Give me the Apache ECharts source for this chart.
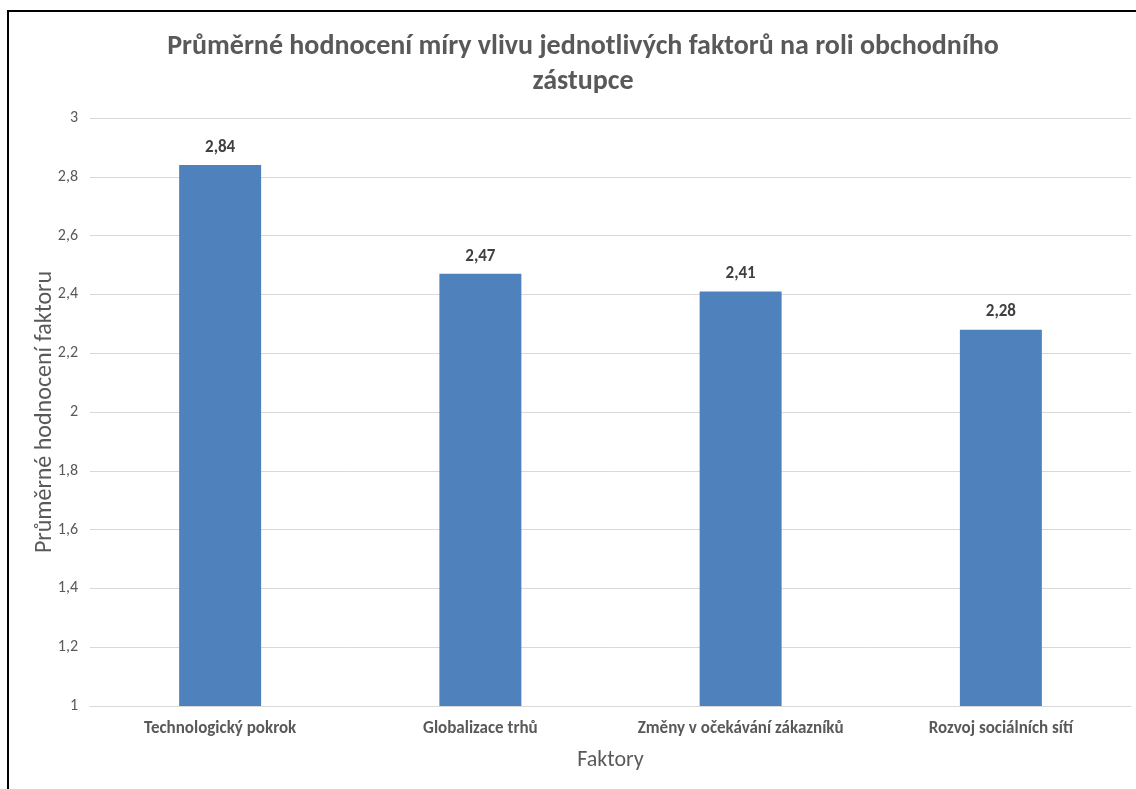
<!DOCTYPE html>
<html>
<head>
<meta charset="utf-8">
<script src="https://cdn.jsdelivr.net/npm/echarts@6/dist/echarts.min.js"></script>
<style>
  html, body { margin: 0; padding: 0; background: #fff; }
  #bar-chart { width: 1136px; height: 789px; }
</style>
</head>
<body>
<div id="bar-chart"></div>
<script>
const categories = ['Technologický pokrok', 'Globalizace trhů', 'Změny v očekávání zákazníků', 'Rozvoj sociálních sítí']
const averageScores = [2.84, 2.47, 2.41, 2.28]
const yTicks = { min: 1, max: 3, step: 0.2 }

const fmt = v => String(Math.round(v * 100) / 100).replace('.', ',')
const font = 'Calibri, Carlito, "Open Sans", "Noto Sans", sans-serif'

echarts.init(document.getElementById('bar-chart')).setOption({
  backgroundColor: '#fff',
  textStyle: { fontFamily: font },
  graphic: [{
    type: 'rect',
    shape: { x: 8, y: 11, width: 1300, height: 900 },
    style: { fill: 'none', stroke: '#000', lineWidth: 2 },
    silent: true
  }],
  title: {
    text: 'Průměrné hodnocení míry vlivu jednotlivých faktorů na roli obchodního\nzástupce',
    left: 578,
    textAlign: 'center',
    top: 24,
    textStyle: {
      fontFamily: font,
      fontSize: 28,
      fontWeight: 'bold',
      color: '#595959',
      lineHeight: 35
    }
  },
  grid: { left: 90, right: 5, top: 118, bottom: 83 },
  xAxis: {
    type: 'category',
    data: categories,
    name: 'Faktory',
    nameLocation: 'middle',
    nameGap: 43,
    nameMoveOverlap: false,
    nameTextStyle: { fontSize: 22, color: '#595959' },
    axisLine: { lineStyle: { color: '#d9d9d9' } },
    axisTick: { show: false },
    axisLabel: { interval: 0, margin: 14, fontSize: 17, fontWeight: 'bold', color: '#595959' }
  },
  yAxis: {
    type: 'value',
    min: yTicks.min,
    max: yTicks.max,
    interval: yTicks.step,
    name: 'Průměrné hodnocení faktoru',
    nameLocation: 'middle',
    nameGap: 33,
    nameMoveOverlap: false,
    nameTextStyle: { fontSize: 24, color: '#595959' },
    axisLine: { show: false },
    axisTick: { show: false },
    axisLabel: { margin: 12, fontSize: 16, color: '#595959', formatter: fmt },
    splitLine: { lineStyle: { color: '#d9d9d9' } }
  },
  series: [{
    type: 'bar',
    data: averageScores,
    barWidth: '31.5%',
    itemStyle: { color: '#4f81bd' },
    label: {
      show: true,
      position: 'top',
      distance: 9,
      fontSize: 17,
      fontWeight: 'bold',
      color: '#404040',
      formatter: p => fmt(p.value)
    }
  }]
})
</script>
</body>
</html>
